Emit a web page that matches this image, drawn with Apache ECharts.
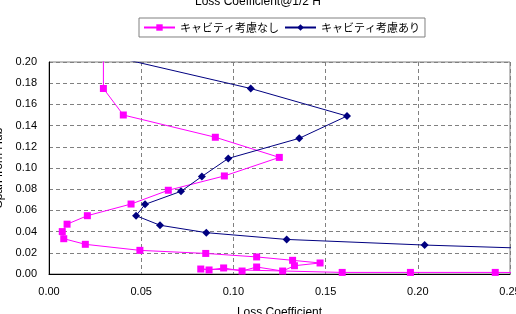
<!DOCTYPE html>
<html>
<head>
<meta charset="utf-8">
<script src="https://cdn.jsdelivr.net/npm/echarts@6/dist/echarts.min.js"></script>
<style>
  html, body { margin: 0; padding: 0; background: #fff; }
  #chart { width: 516px; height: 314px; }
</style>
</head>
<body>
<div id="chart"></div>
<script>
// Loss coefficient (x) vs span from hub (y), two cases
const seriesNames = ["キャビティ考慮なし", "キャビティ考慮あり"];

const lossNoCavity = [0.0295, 0.0295, 0.0403, 0.0902, 0.1249, 0.0951, 0.0647, 0.0445, 0.0208, 0.0098,
  0.0072, 0.0080, 0.0197, 0.0493, 0.0850, 0.1126, 0.1321, 0.1470, 0.1331, 0.1267,
  0.1126, 0.1047, 0.0947, 0.0868, 0.0823, 0.159, 0.196, 0.242, 0.30];
const spanNoCavity = [0.21, 0.175, 0.150, 0.129, 0.110, 0.0925, 0.079, 0.066, 0.055, 0.047,
  0.040, 0.0333, 0.028, 0.0223, 0.0194, 0.0161, 0.0129, 0.0104, 0.0078, 0.0028,
  0.0066, 0.0028, 0.0057, 0.0038, 0.0047, 0.0015, 0.0015, 0.0015, 0.001];

const lossCavity = [0.0226, 0.1094, 0.1616, 0.1357, 0.0972, 0.0829, 0.0716, 0.0521, 0.0472, 0.0602,
  0.0853, 0.1289, 0.2037, 0.30];
const spanCavity = [0.21, 0.175, 0.149, 0.128, 0.109, 0.092, 0.078, 0.0657, 0.055, 0.046,
  0.039, 0.0326, 0.0273, 0.022];

const zip = (xs, ys) => xs.map((x, i) => [x, ys[i]]);

const fontNum = "'Liberation Sans', Arial, sans-serif";
const fontJp = "'Noto Sans CJK JP', sans-serif";

const myChart = echarts.init(document.getElementById("chart"));

const option = {
  animation: false,
  title: {
    text: "Loss Coefficient@1/2 H",
    left: "center",
    top: -9,
    textStyle: { fontSize: 12, fontWeight: "normal", color: "#000", fontFamily: fontNum },
  },
  legend: {
    top: 18,
    left: 139,
    padding: [4, 5, 4, 4],
    itemGap: 5,
    itemWidth: 31,
    itemHeight: 8,
    borderColor: "#808080",
    borderWidth: 1,
    backgroundColor: "#fff",
    textStyle: { fontSize: 11, color: "#000", fontFamily: fontJp },
    data: seriesNames,
  },
  grid: {
    left: 49,
    right: 6,
    top: 62,
    bottom: 40,
    outerBoundsMode: "none",
    containLabel: false,
    show: true,
    borderColor: "#808080",
    borderWidth: 1,
  },
  xAxis: {
    type: "value",
    min: 0,
    max: 0.25,
    interval: 0.05,
    name: "Loss Coefficient",
    nameLocation: "middle",
    nameGap: 33,
    nameTextStyle: { fontSize: 12, color: "#000", fontFamily: fontNum },
    axisLine: { show: true, lineStyle: { color: "#000" } },
    axisTick: { show: false },
    axisLabel: {
      margin: 12,
      fontSize: 11,
      color: "#000",
      fontFamily: fontNum,
      formatter: (v) => v.toFixed(2),
    },
    splitLine: { show: true, lineStyle: { color: "#808080", type: [4, 3] } },
  },
  yAxis: {
    type: "value",
    min: 0,
    max: 0.2,
    interval: 0.02,
    name: "Span from Hub",
    nameLocation: "middle",
    nameGap: 30,
    nameTextStyle: { fontSize: 12, color: "#000", fontFamily: fontNum },
    axisLine: { show: true, lineStyle: { color: "#000" } },
    axisTick: { show: false },
    axisLabel: {
      margin: 12,
      fontSize: 11,
      color: "#000",
      fontFamily: fontNum,
      formatter: (v) => v.toFixed(2),
    },
    splitLine: { show: true, lineStyle: { color: "#808080", type: [4, 3] } },
  },
  series: [
    {
      name: seriesNames[0],
      type: "line",
      data: zip(lossNoCavity, spanNoCavity),
      symbol: "rect",
      symbolSize: 7,
      clip: true,
      color: "#FF00FF",
      lineStyle: { width: 1, color: "#FF00FF" },
      itemStyle: { color: "#FF00FF" },
    },
    {
      name: seriesNames[1],
      type: "line",
      data: zip(lossCavity, spanCavity),
      symbol: "diamond",
      symbolSize: 8,
      clip: true,
      color: "#000080",
      lineStyle: { width: 1, color: "#000080" },
      itemStyle: { color: "#000080" },
    },
  ],
};

myChart.setOption(option);
</script>
</body>
</html>
